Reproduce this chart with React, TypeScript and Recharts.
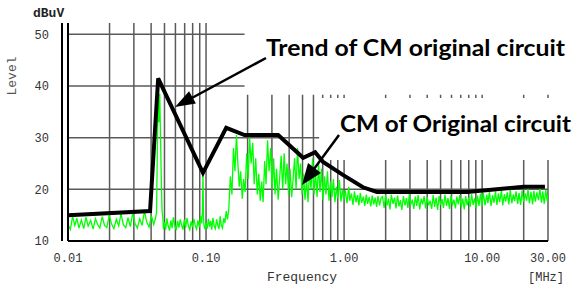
import React from "react";
import {
  ComposedChart,
  Line,
  XAxis,
  YAxis,
  ReferenceLine,
  ReferenceArea,
} from "recharts";

// x axis (MHz, log)
const xTicks = [0.01, 0.1, 1, 10, 30];
const gridFreqs = [
  0.01, 0.02, 0.03, 0.04, 0.05, 0.06, 0.07, 0.08, 0.09,
  0.1, 0.2, 0.3, 0.4, 0.5, 0.6, 0.7, 0.8, 0.9,
  1, 2, 3, 4, 5, 6, 7, 8, 9,
  10, 20, 30,
];
// y axis (dBuV)
const yMajorTicks = [10, 20, 30, 40, 50];
const yMinorTicks = [10, 12, 14, 16, 18, 20, 22, 24, 26, 28, 30, 32, 34, 36, 38, 40, 42, 44, 46, 48, 50];
const gridLevels = [20, 30, 40, 50];

// black trend line [MHz, dBuV]
const trend = [
  [0.01, 15.0], [0.0393, 15.8], [0.045, 41.5], [0.095, 23.2], [0.14, 31.9], [0.19, 30.5],
  [0.333, 30.5], [0.505, 26.1], [0.617, 27.2], [0.705, 25.3], [0.98, 22.8], [1.37, 20.4],
  [1.73, 19.5], [7.8, 19.5], [20, 20.5], [28.5, 20.5],
];

const greenLow = [
  [0.01, 13.2], [0.0104, 12.2], [0.0108, 14.8], [0.0112, 13.0], [0.0116, 14.4], [0.012, 12.5], [0.0125, 14.1],
  [0.013, 12.4], [0.0135, 14.6], [0.014, 12.9], [0.0146, 14.0], [0.0152, 12.3], [0.0158, 14.3], [0.0164, 13.2],
  [0.017, 12.5], [0.0177, 14.7], [0.0184, 13.0], [0.0191, 12.6], [0.0199, 15.0], [0.0207, 13.3], [0.0215, 12.4],
  [0.0224, 14.2], [0.0233, 12.9], [0.0242, 15.3], [0.0252, 13.1], [0.0262, 12.6], [0.0272, 14.5], [0.0283, 12.8],
  [0.0294, 15.4], [0.0306, 13.4], [0.0318, 12.5], [0.0331, 14.3], [0.0344, 13.0], [0.0358, 15.8], [0.0372, 13.6],
  [0.0387, 12.7], [0.0402, 14.9], [0.0418, 13.2], [0.043, 14.4],
];
const greenSpike = [
  [0.0438, 15.5], [0.0444, 28.0], [0.045, 41.5], [0.0456, 33.0], [0.0462, 38.5], [0.0468, 30.0],
  [0.0474, 22.0], [0.048, 16.0], [0.0486, 14.5], [0.0492, 12.3],
];
const greenMid = [
  [0.05, 13.6], [0.051, 12.2], [0.052, 14.4], [0.0532, 12.9], [0.0544, 12.0], [0.0556, 14.0], [0.0568, 12.5],
  [0.058, 14.6], [0.0594, 13.0], [0.0608, 12.1], [0.0622, 13.9], [0.0636, 12.6], [0.065, 14.2], [0.0665, 13.1],
  [0.068, 12.2], [0.0696, 14.1], [0.0712, 12.6], [0.0728, 14.5], [0.0745, 12.9], [0.0762, 12.2], [0.078, 13.8],
  [0.0798, 12.7], [0.0816, 14.3], [0.0835, 13.0], [0.0854, 12.3], [0.0874, 14.0], [0.0894, 12.7], [0.0914, 14.8],
  [0.093, 13.4], [0.0942, 16.0], [0.095, 23.5], [0.0958, 15.0], [0.0966, 13.0], [0.098, 12.3],
  [0.1, 13.5], [0.102, 12.4], [0.104, 14.3], [0.106, 12.8], [0.108, 13.9], [0.11, 12.2], [0.1122, 14.5],
  [0.1145, 12.9], [0.1168, 12.4], [0.1192, 14.2], [0.1216, 13.1], [0.124, 12.3], [0.1265, 14.8], [0.129, 13.0],
  [0.1316, 12.5], [0.1342, 14.4], [0.137, 13.5], [0.14, 15.8], [0.143, 14.2],
];
const greenBusy = [
  [0.146, 16.0], [0.15, 22.5], [0.154, 19.0], [0.158, 28.0], [0.162, 23.5], [0.166, 30.5], [0.17, 25.0],
  [0.174, 20.5], [0.178, 23.5], [0.183, 18.2], [0.187, 22.0], [0.192, 19.5], [0.197, 27.0], [0.202, 22.0],
  [0.207, 30.0], [0.212, 25.0], [0.218, 29.0], [0.223, 21.0], [0.229, 26.0], [0.235, 19.0], [0.241, 23.0],
  [0.247, 17.8], [0.253, 21.5], [0.259, 17.5], [0.266, 25.5], [0.272, 21.0], [0.279, 29.5], [0.286, 23.5],
  [0.294, 28.0], [0.301, 20.0], [0.309, 26.0], [0.316, 19.0], [0.324, 24.0], [0.333, 18.0], [0.341, 22.0],
  [0.35, 26.5], [0.359, 20.0], [0.368, 27.0], [0.377, 21.0], [0.386, 25.0], [0.396, 19.0], [0.406, 24.0],
  [0.417, 18.5], [0.427, 22.0], [0.438, 26.0], [0.449, 20.0], [0.46, 28.0], [0.472, 22.0], [0.484, 25.0],
  [0.496, 19.0], [0.509, 23.0], [0.521, 18.0], [0.535, 22.0], [0.548, 17.5], [0.562, 24.0], [0.576, 20.0],
  [0.591, 26.0], [0.606, 19.0],
];
const greenFall = [
  [0.621, 23.5], [0.637, 18.5], [0.653, 25.0], [0.669, 19.5], [0.686, 24.0], [0.703, 18.0], [0.721, 22.5],
  [0.739, 19.0], [0.758, 23.5], [0.777, 17.8], [0.797, 21.5], [0.817, 18.5], [0.837, 22.0], [0.858, 17.5],
  [0.88, 20.5], [0.902, 18.2], [0.925, 21.8], [0.949, 17.6], [0.973, 20.0], [0.997, 18.0], [1.02, 19.8],
  [1.05, 17.3], [1.08, 20.5], [1.1, 17.8], [1.13, 19.2], [1.16, 17.0], [1.19, 19.6], [1.22, 17.5], [1.25, 18.9],
  [1.28, 16.9], [1.31, 19.3], [1.34, 17.4], [1.38, 18.6], [1.41, 16.8], [1.45, 19.0], [1.48, 17.2], [1.52, 18.5],
  [1.56, 16.7], [1.6, 18.8], [1.64, 17.1], [1.68, 18.4], [1.72, 16.6], [1.76, 18.7], [1.81, 16.9], [1.85, 18.3],
];
const greenFlat = [
  [1.9, 18.6], [1.95, 16.4], [2.0, 18.9], [2.05, 16.9], [2.1, 18.2], [2.15, 16.1], [2.2, 19.0], [2.26, 17.2],
  [2.32, 18.4], [2.38, 16.3], [2.44, 18.8], [2.5, 16.7], [2.56, 17.9], [2.62, 16.0], [2.69, 18.7], [2.76, 16.9],
  [2.83, 18.3], [2.9, 16.4], [2.97, 19.1], [3.04, 17.0], [3.12, 18.0], [3.2, 16.2], [3.28, 18.6], [3.36, 16.8],
  [3.44, 18.9], [3.53, 16.1], [3.62, 18.2], [3.71, 17.1], [3.8, 18.7], [3.9, 16.3], [4.0, 18.5], [4.1, 16.9],
  [4.2, 17.8], [4.31, 16.2], [4.42, 18.9], [4.53, 16.6], [4.64, 18.4], [4.76, 16.0], [4.88, 18.7], [5.0, 17.0],
  [5.12, 18.1], [5.25, 16.4], [5.38, 19.0], [5.52, 16.8], [5.66, 18.3], [5.8, 16.2], [5.94, 18.8], [6.09, 16.9],
  [6.24, 18.0], [6.4, 16.3], [6.56, 18.6], [6.72, 17.1], [6.89, 18.9], [7.06, 16.5], [7.24, 18.2], [7.42, 16.1],
  [7.6, 18.7], [7.79, 16.9], [7.99, 18.4], [8.19, 16.6], [8.39, 19.1], [8.6, 17.0], [8.82, 18.3], [9.04, 16.4],
  [9.26, 18.8], [9.49, 16.8], [9.73, 19.2], [9.97, 16.7],
];
const greenHigh = [
  [10.2, 19.3], [10.5, 16.9], [10.8, 19.0], [11.0, 17.3], [11.3, 19.5], [11.6, 16.8], [11.9, 18.9], [12.2, 17.4],
  [12.5, 19.6], [12.8, 17.0], [13.1, 19.2], [13.4, 17.5], [13.8, 19.8], [14.1, 16.9], [14.5, 19.1], [14.8, 17.6],
  [15.2, 19.4], [15.6, 17.1], [16.0, 19.9], [16.4, 17.3], [16.8, 19.0], [17.2, 17.7], [17.6, 19.6], [18.1, 17.2],
  [18.5, 19.3], [19.0, 17.0], [19.5, 19.8], [20.0, 17.5], [20.5, 19.2], [21.0, 17.8], [21.5, 20.0], [22.0, 17.3],
  [22.6, 19.5], [23.2, 17.1], [23.7, 19.7], [24.3, 17.6], [24.9, 19.4], [25.6, 17.9], [26.2, 20.1], [26.9, 17.4],
  [27.5, 19.6], [28.2, 17.2], [28.9, 19.9], [29.6, 17.7], [30.0, 19.0],
];

const toPoints = (rows: number[][]) => rows.map(([f, v]) => ({ f, v }));
const trendData = toPoints(trend);
const greenData = toPoints([
  ...greenLow, ...greenSpike, ...greenMid, ...greenBusy, ...greenFall, ...greenFlat, ...greenHigh,
]);

const mono = "'Liberation Mono', 'DejaVu Sans Mono', monospace";
const note = "Lato, 'Open Sans', sans-serif";

export default function App() {
  return (
    <div style={{ position: "absolute", left: 0, top: 0, width: 574, height: 291, background: "#fff" }}>
      <ComposedChart width={574} height={291} margin={{ top: 23, right: 26, bottom: 20, left: 0 }}>
        <XAxis
          dataKey="f"
          type="number"
          scale="log"
          domain={[0.01, 30]}
          allowDataOverflow
          ticks={xTicks}
          interval={0}
          tickFormatter={(v: number) => v.toFixed(2)}
          tickLine={false}
          tickSize={0}
          tickMargin={12}
          height={30}
          axisLine={{ stroke: "#000", strokeWidth: 2 }}
          tick={{ fill: "#333", fontSize: 12, fontFamily: mono }}
        />
        <YAxis
          yAxisId="a"
          type="number"
          domain={[10, 52.2]}
          allowDataOverflow
          ticks={yMinorTicks}
          interval={0}
          width={6}
          tick={false}
          tickSize={6}
          tickLine={{ stroke: "#000", strokeWidth: 1.5 }}
          axisLine={{ stroke: "#000", strokeWidth: 2 }}
        />
        <YAxis
          yAxisId="b"
          type="number"
          domain={[10, 52.2]}
          allowDataOverflow
          ticks={yMajorTicks}
          interval={0}
          width={62}
          tickLine={false}
          tickSize={0}
          tickMargin={13}
          axisLine={{ stroke: "#000", strokeWidth: 2 }}
          tick={{ fill: "#333", fontSize: 12, fontFamily: mono }}
        />
        {gridFreqs.map((f) => (
          <ReferenceLine key={"gx" + f} x={f} yAxisId="b" stroke="#5a5a5a" strokeWidth={1.5} zIndex={-100} />
        ))}
        {gridLevels.map((lv) => (
          <ReferenceLine key={"gy" + lv} y={lv} yAxisId="b" stroke="#5a5a5a" strokeWidth={1.5} zIndex={-100} />
        ))}
        <ReferenceArea
          yAxisId="b"
          x1={0.19}
          x2={40}
          y1={38.3}
          y2={56}
          fill="#fff"
          fillOpacity={1}
          stroke="none"
          ifOverflow="visible"
          zIndex={-50}
        />
        <ReferenceArea
          yAxisId="b"
          x1={0.66}
          x2={40}
          y1={25.7}
          y2={37.7}
          fill="#fff"
          fillOpacity={1}
          stroke="none"
          ifOverflow="visible"
          zIndex={-50}
        />
        <Line
          data={greenData}
          dataKey="v"
          yAxisId="b"
          stroke="#00ff00"
          strokeWidth={1.3}
          dot={false}
          isAnimationActive={false}
        />
        <Line
          data={trendData}
          dataKey="v"
          yAxisId="b"
          stroke="#000"
          strokeWidth={4}
          strokeLinejoin="miter"
          dot={false}
          isAnimationActive={false}
        />
      </ComposedChart>
      <svg
        width={574}
        height={291}
        style={{ position: "absolute", left: 0, top: 0, pointerEvents: "none" }}
      >
        <text x={33} y={17} fontFamily={mono} fontSize={13} fontWeight={700} fill="#222">
          dBuV
        </text>
        <text x={16} y={76} transform="rotate(-90 16 76)" textAnchor="middle" fontFamily={mono} fontSize={13} fill="#555">
          Level
        </text>
        <text x={302} y={281} textAnchor="middle" fontFamily={mono} fontSize={13} fill="#333">
          Frequency
        </text>
        <text x={546} y={281} textAnchor="middle" fontFamily={mono} fontSize={12} fill="#333">
          [MHz]
        </text>
        <text x={266} y={56} fontFamily={note} fontWeight={700} fontSize={22} fill="#000" textLength={299} lengthAdjust="spacingAndGlyphs">
          Trend of CM original circuit
        </text>
        <text x={340} y={132} fontFamily={note} fontWeight={700} fontSize={22} fill="#000" textLength={231} lengthAdjust="spacingAndGlyphs">
          CM of Original circuit
        </text>
        <line x1={266} y1={58} x2={190} y2={99} stroke="#000" strokeWidth={2.5} />
        <polygon points="175,107 195.9,103.5 189.1,91.3" fill="#000" />
        <line x1={339} y1={135} x2={314} y2={169} stroke="#000" strokeWidth={2.5} />
        <polygon points="302,185 321,173 308,163" fill="#000" />
      </svg>
    </div>
  );
}
